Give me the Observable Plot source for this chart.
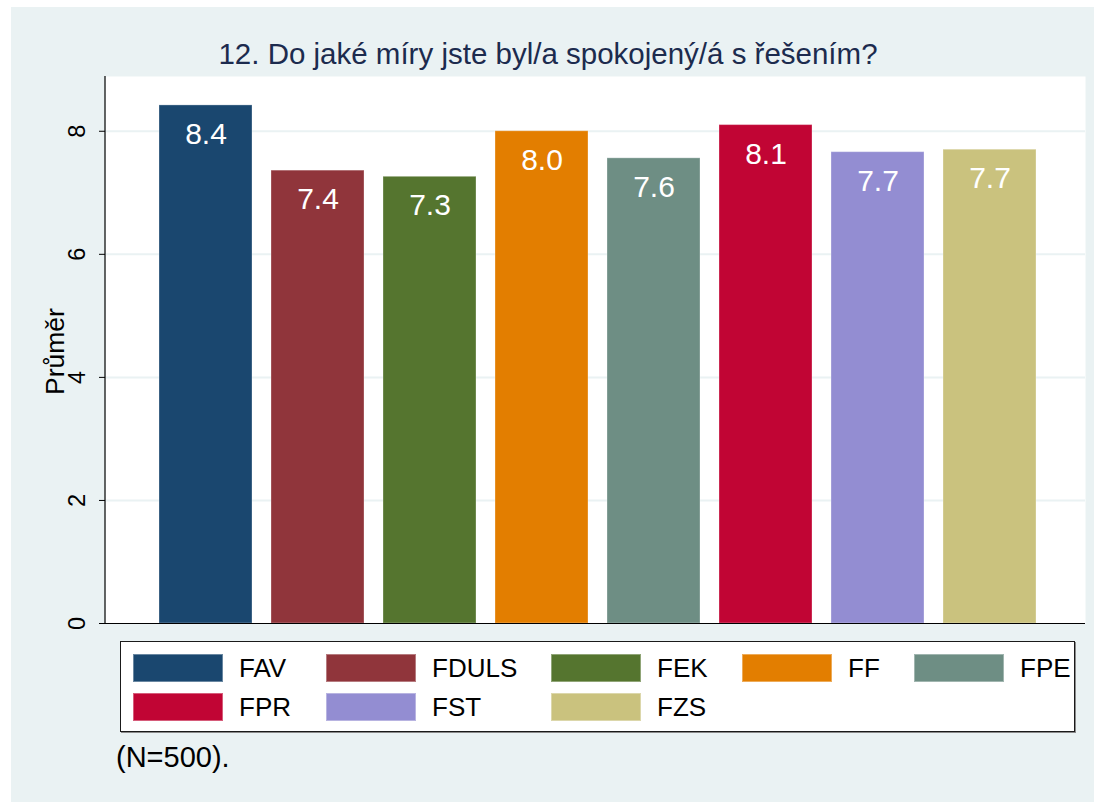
<!DOCTYPE html>
<html>
<head>
<meta charset="utf-8">
<script src="https://cdn.jsdelivr.net/npm/d3@7"></script>
<script src="https://cdn.jsdelivr.net/npm/@observablehq/plot@0.6"></script>
<style>
  html, body { margin: 0; padding: 0; background: #ffffff; }
  body { width: 1094px; height: 802px; position: relative; overflow: hidden; font-family: "Liberation Sans", Arial, sans-serif; }
  #bg { position: absolute; left: 11px; top: 7px; width: 1083px; height: 795px; background: #eaf2f3; }
  #chart { position: absolute; left: 0; top: 0; }
  #title { position: absolute; left: 11px; width: 1074px; top: 37px; text-align: center; font-size: 29.5px; color: #1c2b4e; white-space: nowrap; }
  #legend { position: absolute; left: 120px; top: 641px; width: 953px; height: 89px; background: #fff; border: 1px solid #1a1a1a; box-shadow: 1px 1px 0 #8a8a8a; }
  .sw { position: absolute; width: 90px; height: 28px; box-sizing: border-box; border: 1px solid rgba(255,255,255,0.35); }
  .lb { position: absolute; font-size: 26px; color: #000; line-height: 30px; }
  #note { position: absolute; left: 116px; top: 741px; font-size: 29px; color: #000; }
</style>
</head>
<body>
<div id="bg"></div>
<div id="chart"></div>
<div id="title"></div>
<div id="legend"></div>
<div id="note"></div>
<script>
const titleText = "12. Do jaké míry jste byl/a spokojený/á s řešením?";
const yLabel = "Průměr";
const noteText = "(N=500).";
const categories = ["FAV", "FDULS", "FEK", "FF", "FPE", "FPR", "FST", "FZS"];
const means = [8.42, 7.36, 7.26, 8.00, 7.56, 8.10, 7.66, 7.70];
const colors = ["#1a476f", "#90353b", "#55752f", "#e37e00", "#6e8e84", "#c10534", "#938dd2", "#cac27e"];
const yTicks = [0, 2, 4, 6, 8];

const data = categories.map((c, i) => ({cat: c, val: means[i]}));

document.getElementById("title").textContent = titleText;
document.getElementById("note").textContent = noteText;

const leftLine = (index, scales, values, dims) => {
  return d3.create("svg:line")
    .attr("x1", dims.marginLeft).attr("x2", dims.marginLeft)
    .attr("y1", dims.marginTop).attr("y2", dims.height - dims.marginBottom)
    .attr("stroke", "#000").attr("stroke-width", 1.2)
    .node();
};

const chart = Plot.plot({
  width: 1094,
  height: 640,
  marginLeft: 105,
  marginRight: 9,
  marginTop: 76,
  marginBottom: 17,
  style: {background: "transparent", fontFamily: "'Liberation Sans', Arial, sans-serif", overflow: "visible"},
  x: {domain: categories, paddingInner: 0.172, paddingOuter: 0.45, align: 0.525, axis: null},
  y: {domain: [0, 8.89], axis: null},
  color: {domain: categories, range: colors},
  marks: [
    Plot.frame({fill: "#ffffff", stroke: "none"}),
    Plot.gridY(yTicks.filter(d => d > 0), {stroke: "#eaf2f3", strokeOpacity: 1, strokeWidth: 2}),
    Plot.barY(data, {x: "cat", y: "val", fill: "cat", stroke: "#ffffff", strokeOpacity: 0.3, strokeWidth: 1}),
    Plot.text(data, {x: "cat", y: "val", text: d => d.val.toFixed(1), fill: "#ffffff", fontSize: 30, dy: 29}),
    Plot.ruleY([0], {stroke: "#000", strokeWidth: 1.2}),
    leftLine,
    Plot.axisY({ticks: yTicks, tickSize: 6, tickFormat: () => "", label: null, stroke: "#000"}),
    Plot.text(yTicks, {y: d => d, text: d => String(d), frameAnchor: "left", textAnchor: "middle", dx: -28, rotate: -90, fontSize: 23.5, fill: "#000"}),
    Plot.text([yLabel], {y: () => 4.42, text: d => d, frameAnchor: "left", textAnchor: "middle", dx: -50, rotate: -90, fontSize: 26.5, fill: "#000"})
  ]
});
document.getElementById("chart").appendChild(chart);

// Legend (HTML)
const colX = [12, 205, 430, 621, 793];
const rowY = [12, 51];
const legend = document.getElementById("legend");
categories.forEach((c, i) => {
  const col = i % 5, row = Math.floor(i / 5);
  const sw = document.createElement("div");
  sw.className = "sw";
  sw.style.left = colX[col] + "px";
  sw.style.top = rowY[row] + "px";
  sw.style.background = colors[i];
  legend.appendChild(sw);
  const lb = document.createElement("div");
  lb.className = "lb";
  lb.style.left = (colX[col] + 106) + "px";
  lb.style.top = (rowY[row] - 1) + "px";
  lb.textContent = c;
  legend.appendChild(lb);
});
</script>
</body>
</html>
